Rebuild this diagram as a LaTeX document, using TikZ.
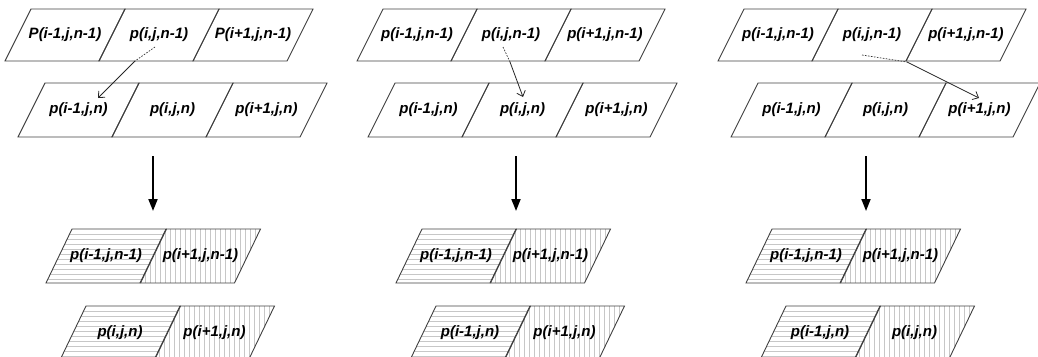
\documentclass[tikz,border=0pt]{standalone}
\usepackage{fontspec}
\setmainfont{Liberation Sans}
\usetikzlibrary{arrows.meta}

\tikzset{
  cellline/.style={draw=black!75, line width=0.9pt},
  hatchline/.style={draw=black!22, line width=0.6pt},
  lbl/.style={font=\fontsize{15}{17}\selectfont\bfseries\itshape, inner sep=0pt},
  flowarrow/.style={line width=1.8pt, -{Triangle[length=12pt,width=9pt]}},
  tracedash/.style={draw=black!80, line width=0.7pt, dash pattern=on 1.6pt off 1.4pt},
  tracearrow/.style={draw=black!85, line width=0.8pt, -{Straight Barb[length=5pt,width=9pt]}},
}

% #1 node name, #2 x of top-left corner, #3 y of top edge, #4 height, #5 skew, #6 label
\newcommand{\plaincell}[6]{%
  \draw[cellline] (#2,#3) -- ++(94,0) -- ++(-#5,#4) -- ++(-94,0) -- cycle;
  \node[lbl] (#1) at (#2+47-#5/2,#3+#4/2) {#6};
}
% same cell, shaded with horizontal lines
\newcommand{\hcell}[6]{%
  \begin{scope}
    \clip (#2,#3) -- ++(94,0) -- ++(-#5,#4) -- ++(-94,0) -- cycle;
    \foreach \k in {1,...,11} \draw[hatchline] (#2-#5,#3+\k*5) -- ++(94+#5,0);
  \end{scope}
  \plaincell{#1}{#2}{#3}{#4}{#5}{#6}%
}
% same cell, shaded with vertical lines
\newcommand{\vcell}[6]{%
  \begin{scope}
    \clip (#2,#3) -- ++(94,0) -- ++(-#5,#4) -- ++(-94,0) -- cycle;
    \foreach \k in {1,...,24} \draw[hatchline] (#2-#5+\k*5,#3) -- ++(0,#4);
  \end{scope}
  \plaincell{#1}{#2}{#3}{#4}{#5}{#6}%
}

\begin{document}
\begin{tikzpicture}[x=1pt,y=-1pt]
\useasboundingbox (0,0) rectangle (1038,356);

% ---------- first column ----------
\plaincell{p1a1}{31}{9}{52}{26}{P(i-1,j,n-1)}
\plaincell{p1a2}{125}{9}{52}{26}{p(i,j,n-1)}
\plaincell{p1a3}{219}{9}{52}{26}{P(i+1,j,n-1)}
\plaincell{p1b1}{45}{83}{54}{27}{p(i-1,j,n)}
\plaincell{p1b2}{139}{83}{54}{27}{p(i,j,n)}
\plaincell{p1b3}{233}{83}{54}{27}{p(i+1,j,n)}
\hcell{p1c1}{72}{229}{54}{26}{p(i-1,j,n-1)}
\vcell{p1c2}{166.5}{229}{54}{26}{p(i+1,j,n-1)}
\hcell{p1d1}{86}{306}{54}{26}{p(i,j,n)}
\vcell{p1d2}{180.5}{306}{54}{26}{p(i+1,j,n)}

\coordinate (p1s) at (155,47);
\coordinate (p1m) at (135,61);
\coordinate (p1e) at (98,98);
\draw[tracedash] (p1s) -- (p1m);
\draw[tracearrow] (p1m) -- (p1e);
\coordinate (p1top) at (153,156);
\coordinate (p1bot) at (153,211);
\draw[flowarrow] (p1top) -- (p1bot);

% ---------- second column ----------
\plaincell{p2a1}{383}{9}{52}{26}{p(i-1,j,n-1)}
\plaincell{p2a2}{477}{9}{52}{26}{p(i,j,n-1)}
\plaincell{p2a3}{571}{9}{52}{26}{p(i+1,j,n-1)}
\plaincell{p2b1}{395}{83}{54}{27}{p(i-1,j,n)}
\plaincell{p2b2}{489}{83}{54}{27}{p(i,j,n)}
\plaincell{p2b3}{583}{83}{54}{27}{p(i+1,j,n)}
\hcell{p2c1}{422}{229}{54}{26}{p(i-1,j,n-1)}
\vcell{p2c2}{516.5}{229}{54}{26}{p(i+1,j,n-1)}
\hcell{p2d1}{436}{306}{54}{26}{p(i-1,j,n)}
\vcell{p2d2}{530.5}{306}{54}{26}{p(i+1,j,n)}

\coordinate (p2s) at (503,47);
\coordinate (p2m) at (510,62);
\coordinate (p2e) at (523,97);
\draw[tracedash] (p2s) -- (p2m);
\draw[tracearrow] (p2m) -- (p2e);
\coordinate (p2top) at (516,156);
\coordinate (p2bot) at (516,211);
\draw[flowarrow] (p2top) -- (p2bot);

% ---------- third column ----------
\plaincell{p3a1}{744}{9}{52}{26}{p(i-1,j,n-1)}
\plaincell{p3a2}{838}{9}{52}{26}{p(i,j,n-1)}
\plaincell{p3a3}{932}{9}{52}{26}{p(i+1,j,n-1)}
\plaincell{p3b1}{758}{83}{54}{27}{p(i-1,j,n)}
\plaincell{p3b2}{852}{83}{54}{27}{p(i,j,n)}
\plaincell{p3b3}{946}{83}{54}{27}{p(i+1,j,n)}
\hcell{p3c1}{772}{229}{54}{26}{p(i-1,j,n-1)}
\vcell{p3c2}{866.5}{229}{54}{26}{p(i+1,j,n-1)}
\hcell{p3d1}{786}{306}{54}{26}{p(i-1,j,n)}
\vcell{p3d2}{880.5}{306}{54}{26}{p(i,j,n)}

\coordinate (p3s) at (862,55);
\coordinate (p3m) at (907,62);
\coordinate (p3e) at (979,98);
\draw[tracedash] (p3s) -- (p3m);
\draw[tracearrow] (p3m) -- (p3e);
\coordinate (p3top) at (866,156);
\coordinate (p3bot) at (866,211);
\draw[flowarrow] (p3top) -- (p3bot);
\end{tikzpicture}
\end{document}
